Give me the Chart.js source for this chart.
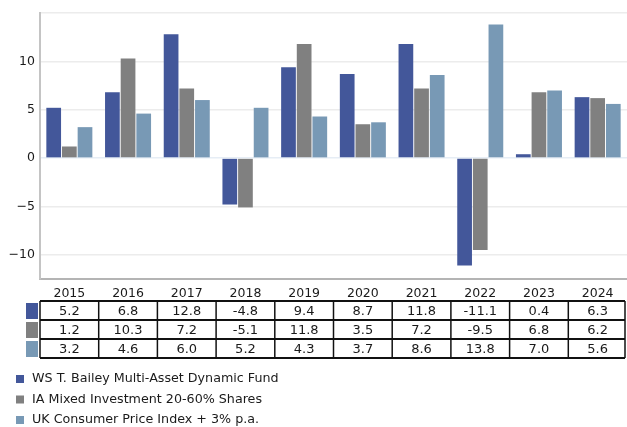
<!DOCTYPE html>
<html lang="en">
<head>
  <meta charset="UTF-8">
  <title>Discrete annual performance</title>
  <script src="https://cdn.jsdelivr.net/npm/chart.js"></script>
  <style>
    html, body { margin: 0; padding: 0; background: #fff; }
    #wrap { position: relative; width: 627px; height: 427px; }
  </style>
</head>
<body>
  <div id="wrap"><canvas id="perfChart"></canvas></div>

  <script>
    // data
    const years = ['2015', '2016', '2017', '2018', '2019', '2020', '2021', '2022', '2023', '2024'];
    const fundValues = [5.2, 6.8, 12.8, -4.8, 9.4, 8.7, 11.8, -11.1, 0.4, 6.3];
    const sectorValues = [1.2, 10.3, 7.2, -5.1, 11.8, 3.5, 7.2, -9.5, 6.8, 6.2];
    const cpiValues = [3.2, 4.6, 6.0, 5.2, 4.3, 3.7, 8.6, 13.8, 7.0, 5.6];
    const seriesNames = [
      'WS T. Bailey Multi-Asset Dynamic Fund',
      'IA Mixed Investment 20-60% Shares',
      'UK Consumer Price Index + 3% p.a.'
    ];
    const yTicks = [-10, -5, 0, 5, 10, 15];

    const colors = ['#43579a', '#808080', '#7899b5'];
    const FONT = "'DejaVu Sans', sans-serif";

    // table + legend under the plot
    const tablePlugin = {
      id: 'dataTable',
      afterDraw(chart) {
        const ctx = chart.ctx;
        const area = chart.chartArea;
        const xs = chart.scales.x;
        const colW = area.width / years.length;
        const top = area.bottom + 22;
        const rowH = 19;
        const rows = [fundValues, sectorValues, cpiValues];

        ctx.save();
        // values
        ctx.font = '13px ' + FONT;
        ctx.fillStyle = '#1a1a1a';
        ctx.textAlign = 'center';
        ctx.textBaseline = 'middle';
        rows.forEach((vals, r) => {
          vals.forEach((v, i) => {
            ctx.fillText(v.toFixed(1), xs.getPixelForValue(i), top + r * rowH + rowH / 2 + 1);
          });
          // colour key
          ctx.fillStyle = colors[r];
          ctx.fillRect(26, top + r * rowH + 2, 12, 16);
          ctx.fillStyle = '#1a1a1a';
        });

        // grid lines
        ctx.strokeStyle = '#111';
        ctx.lineWidth = 2;
        for (let r = 0; r <= rows.length; r++) {
          ctx.beginPath();
          ctx.moveTo(area.left, top + r * rowH);
          ctx.lineTo(area.right - 2, top + r * rowH);
          ctx.stroke();
        }
        ctx.lineWidth = 1.5;
        for (let i = 0; i <= years.length; i++) {
          let x = area.left + i * colW;
          if (i === years.length) x = area.right - 2;
          ctx.beginPath();
          ctx.moveTo(x, top);
          ctx.lineTo(x, top + rows.length * rowH);
          ctx.stroke();
        }

        // legend
        ctx.font = '12.7px ' + FONT;
        ctx.textAlign = 'left';
        seriesNames.forEach((name, k) => {
          const y = 379 + k * 20.5;
          ctx.fillStyle = colors[k];
          ctx.fillRect(16, y - 4, 8, 8);
          ctx.fillStyle = '#1a1a1a';
          ctx.fillText(name, 32, y);
        });
        ctx.restore();
      }
    };

    const ctx = document.getElementById('perfChart').getContext('2d');
    new Chart(ctx, {
      type: 'bar',
      data: {
        labels: years,
        datasets: [
          { label: seriesNames[0], data: fundValues, backgroundColor: colors[0] },
          { label: seriesNames[1], data: sectorValues, backgroundColor: colors[1] },
          { label: seriesNames[2], data: cpiValues, backgroundColor: colors[2] }
        ]
      },
      options: {
        responsive: true,
        maintainAspectRatio: false,
        animation: false,
        datasets: { bar: { categoryPercentage: 0.8, barPercentage: 0.94 } },
        plugins: {
          legend: { display: false },
          tooltip: { enabled: false }
        },
        layout: { padding: { top: 13, right: 0, left: 0, bottom: 0 } },
        scales: {
          x: {
            grid: { display: false, drawTicks: false },
            border: { display: true, color: '#b4b4b4', width: 2 },
            ticks: { font: { family: FONT, size: 12.5 }, color: '#1a1a1a', padding: 7, maxRotation: 0 },
            afterFit(scale) { scale.height = 148; }
          },
          y: {
            min: -12.5,
            max: 15,
            afterBuildTicks(scale) { scale.ticks = yTicks.map(v => ({ value: v })); },
            grid: { color: ctx => ctx.tick && ctx.tick.value === 0 ? '#e6edf5' : '#ececec', lineWidth: 1.5, drawTicks: false },
            border: { display: true, color: '#c4c4c4', width: 2 },
            ticks: {
              font: { family: FONT, size: 12.5 },
              color: '#1a1a1a',
              padding: 5,
              callback: v => v === 15 ? '' : (v < 0 ? '\u2212' + Math.abs(v) : String(v))
            },
            afterFit(scale) { scale.width = 40; }
          }
        }
      },
      plugins: [tablePlugin]
    });
  </script>
</body>
</html>
